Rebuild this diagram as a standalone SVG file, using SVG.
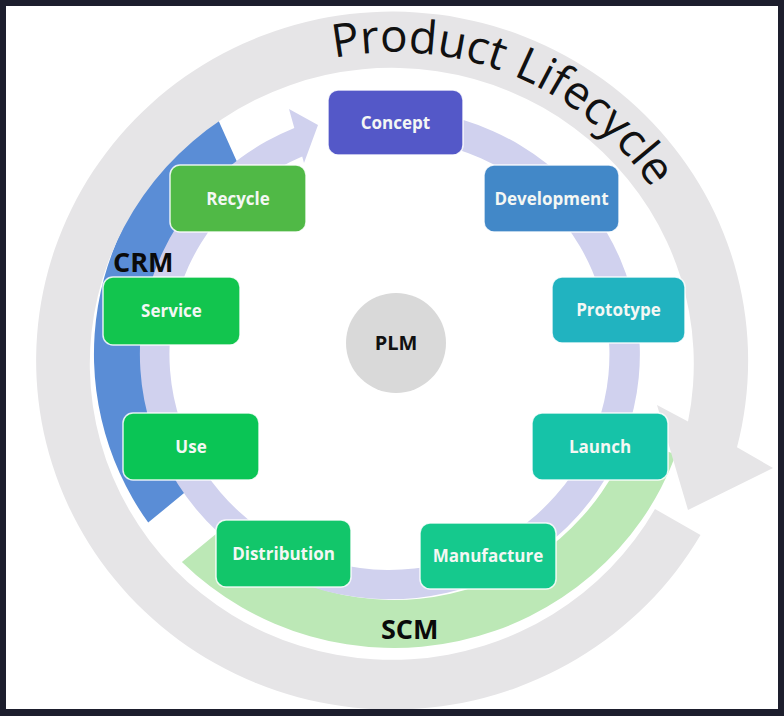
<svg xmlns="http://www.w3.org/2000/svg" width="784" height="716" viewBox="0 0 784 716">
<style>
.node rect{stroke:#ffffff;stroke-opacity:0.85;stroke-width:1.5}
.node text{font-family:"Open Sans","Noto Sans",sans-serif;font-weight:700;font-size:17px;fill:#f4f7f4;text-anchor:middle}
.big{font-family:"Open Sans","Noto Sans",sans-serif;font-weight:700;fill:#0a0a0a}
.title{font-family:"Open Sans","Noto Sans",sans-serif;font-size:46px;fill:#111111}
</style>
<defs>
<path id="lifePath" d="M 288.7 70.4 A 308 302 0 0 1 697.3 301.6" fill="none"/>
</defs>
<rect x="0" y="0" width="784" height="716" fill="#ffffff"/>
<g id="bands">
<path id="scm-band" d="M 675.9 454.6 A 300 294 0 0 1 181.9 561.9 L 219.6 530.9 A 251 246 0 0 0 629.9 438.1 Z" fill="#bce8b6"/>
<path id="crm-band" d="M 148.2 522.6 A 300 294 0 0 1 216.8 116.7 L 237.1 162.0 A 251 246 0 0 0 185.9 491.6 Z" fill="#5a8dd6"/>
<path id="lifecycle-arrow" d="M 700.5 535 A 356 349 0 1 1 737.0 447.2 L 773 468 L 688 510 L 657 405 L 688.0 421.6 A 302 296 0 1 0 655 509 Z" fill="#e6e5e7"/>
</g>
<g id="connectors">
<path id="cycle-arrow" d="M 372.2 109.9 A 250 245 0 1 1 294.3 127.9 L 289 109 L 318 125 L 304 163 L 302.2 156.4 A 220 215.6 0 1 0 374.8 139.2 Z" fill="#d0d1ee"/>
</g>
<g id="title">
<text class="title"><textPath href="#lifePath" startOffset="47">Product</textPath></text>
<text class="title"><textPath href="#lifePath" startOffset="229">Lifecycle</textPath></text>
</g>
<text class="big" x="113" y="272" font-size="27">CRM</text>
<text class="big" x="381" y="639" font-size="27">SCM</text>
<g id="plm" class="node">
<circle cx="396" cy="343" r="50" fill="#d9d9d9"/>
<text x="396" y="350" style="fill:#111111;font-size:20px">PLM</text>
</g>
<g id="concept" class="node"><rect x="328" y="90" width="135" height="65" rx="10" fill="#5458c8"/><text x="395.5" y="128.5">Concept</text></g>
<g id="development" class="node"><rect x="484" y="165" width="135" height="67" rx="10" fill="#4288c8"/><text x="551.5" y="204.5">Development</text></g>
<g id="prototype" class="node"><rect x="552" y="277" width="133" height="66" rx="10" fill="#21b3c0"/><text x="618.5" y="316">Prototype</text></g>
<g id="launch" class="node"><rect x="532" y="413" width="136" height="67" rx="10" fill="#16c3a8"/><text x="600" y="452.5">Launch</text></g>
<g id="manufacture" class="node"><rect x="420" y="523" width="136" height="66" rx="10" fill="#15c98d"/><text x="488" y="562">Manufacture</text></g>
<g id="distribution" class="node"><rect x="216" y="520" width="135" height="67" rx="10" fill="#12c66a"/><text x="283.5" y="559.5">Distribution</text></g>
<g id="use" class="node"><rect x="123" y="413" width="136" height="67" rx="10" fill="#0ac555"/><text x="191" y="452.5">Use</text></g>
<g id="service" class="node"><rect x="103" y="277" width="137" height="68" rx="10" fill="#12c54e"/><text x="171.5" y="317">Service</text></g>
<g id="recycle" class="node"><rect x="170" y="165" width="136" height="67" rx="10" fill="#50b946"/><text x="238" y="204.5">Recycle</text></g>
<path d="M0 0H784V716H0Z M6 6V709H778V6Z" fill="#1d1e2d" fill-rule="evenodd"/>
</svg>
